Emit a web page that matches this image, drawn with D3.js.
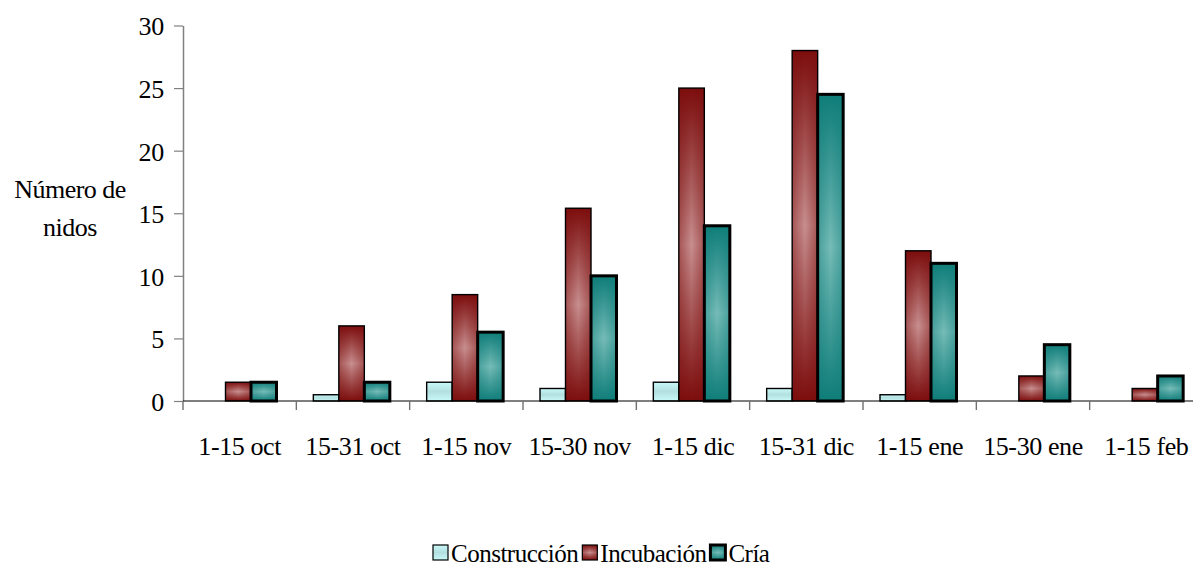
<!DOCTYPE html>
<html>
<head>
<meta charset="utf-8">
<script src="https://d3js.org/d3.v7.min.js"></script>
<style>
  html, body { margin: 0; padding: 0; background: #fff; overflow: hidden; }
  svg { display: block; }
</style>
</head>
<body>
<svg id="chart" width="1193" height="566" font-family="Liberation Serif"></svg>
<script>
// Periods of the nesting season
const categories = ["1-15 oct", "15-31 oct", "1-15 nov", "15-30 nov", "1-15 dic",
                    "15-31 dic", "1-15 ene", "15-30 ene", "1-15 feb"];
// Number of nests in each phase
const construccion = [0, 0.5, 1.5, 1, 1.5, 1, 0.5, 0, 0];
const incubacion   = [1.5, 6, 8.5, 15.4, 25, 28, 12, 2, 1];
const cria         = [1.5, 1.5, 5.5, 10, 14, 24.5, 11, 4.5, 2];
const seriesNames  = ["Construcción", "Incubación", "Cría"];
const yTicks       = [0, 5, 10, 15, 20, 25, 30];

const FONT = "Liberation Serif";

const series = [
  { key: "c", name: seriesNames[0], values: construccion, dark: "#c9f9f9", light: "#b3dfdf", stroke: 1.4, edge: "#b9e9e9", edgeOp: 0.0 },
  { key: "i", name: seriesNames[1], values: incubacion, dark: "#7c0d0d", light: "#c88f8f", stroke: 1.4, edge: "#7c0d0d", edgeOp: 0.45 },
  { key: "r", name: seriesNames[2], values: cria, dark: "#0f7d79", light: "#76bcb8", stroke: 3, edge: "#0f7d79", edgeOp: 0.45 }
];

const svg = d3.select("#chart");
const plotLeft = 183, plotRight = 1203, plotTop = 25.5, plotBottom = 401;

const x = d3.scaleBand().domain(categories).range([plotLeft, plotRight]).paddingInner(0).paddingOuter(0);
const bw = x.bandwidth();
const xs = d3.scaleBand().domain(series.map(s => s.key))
  .range([bw * 0.15, bw * 0.15 + bw * 0.675]).padding(0);
const y = d3.scaleLinear().domain([0, 30]).range([plotBottom, plotTop]);

// Shaded fills: light centre fading to dark ends, plus darker side edges
const defs = svg.append("defs");
series.forEach(s => {
  const gv = defs.append("linearGradient").attr("id", "gv-" + s.key)
    .attr("x1", 0).attr("y1", 0).attr("x2", 0).attr("y2", 1);
  gv.append("stop").attr("offset", "0%").attr("stop-color", s.dark);
  gv.append("stop").attr("offset", "50%").attr("stop-color", s.light);
  gv.append("stop").attr("offset", "100%").attr("stop-color", s.dark);
  const gh = defs.append("linearGradient").attr("id", "gh-" + s.key)
    .attr("x1", 0).attr("y1", 0).attr("x2", 1).attr("y2", 0);
  gh.append("stop").attr("offset", "0%").attr("stop-color", s.edge).attr("stop-opacity", s.edgeOp);
  gh.append("stop").attr("offset", "50%").attr("stop-color", s.edge).attr("stop-opacity", 0);
  gh.append("stop").attr("offset", "100%").attr("stop-color", s.edge).attr("stop-opacity", s.edgeOp);
});

// Y axis
const yAxis = svg.append("g").attr("transform", `translate(${plotLeft},0)`)
  .call(d3.axisLeft(y).tickValues(yTicks).tickSize(9).tickSizeOuter(0).tickPadding(10));
yAxis.attr("font-family", FONT);
yAxis.select(".domain").attr("stroke", "#808080").attr("stroke-width", 1.5);
yAxis.selectAll(".tick line").attr("stroke", "#808080").attr("stroke-width", 1.2);
yAxis.selectAll(".tick text").attr("font-size", 26).attr("font-family", FONT)
  .attr("fill", "#000").attr("dy", "0.36em").attr("letter-spacing", -0.3);

// Y axis title
const yTitle = svg.append("text").attr("text-anchor", "middle").attr("font-size", 26)
  .attr("font-family", FONT).attr("fill", "#000").attr("letter-spacing", -0.5);
yTitle.append("tspan").attr("x", 70).attr("y", 198).text("Número de");
yTitle.append("tspan").attr("x", 70).attr("y", 236).text("nidos");

// Bars
series.forEach(s => {
  const data = categories.map((c, i) => ({ c, v: s.values[i] })).filter(d => d.v > 0);
  const g = svg.append("g");
  g.selectAll("rect.base").data(data).join("rect").attr("class", "base")
    .attr("x", d => x(d.c) + xs(s.key)).attr("width", xs.bandwidth())
    .attr("y", d => y(d.v)).attr("height", d => y(0) - y(d.v))
    .attr("fill", `url(#gv-${s.key})`);
  g.selectAll("rect.edge").data(data).join("rect").attr("class", "edge")
    .attr("x", d => x(d.c) + xs(s.key)).attr("width", xs.bandwidth())
    .attr("y", d => y(d.v)).attr("height", d => y(0) - y(d.v))
    .attr("fill", `url(#gh-${s.key})`)
    .attr("stroke", "#000").attr("stroke-width", s.stroke);
});

// X axis: baseline, boundary ticks, centred labels
const xAxis = svg.append("g").attr("transform", `translate(0,${plotBottom})`);
xAxis.append("line").attr("x1", plotLeft).attr("x2", plotRight).attr("stroke", "#000").attr("stroke-width", 1.2);
xAxis.selectAll("line.tk").data(categories).join("line").attr("class", "tk")
  .attr("x1", d => x(d)).attr("x2", d => x(d)).attr("y1", 0).attr("y2", 9)
  .attr("stroke", "#707070").attr("stroke-width", 1.4);
xAxis.selectAll("text").data(categories).join("text")
  .attr("x", d => x(d) + bw / 2).attr("y", 54)
  .attr("text-anchor", "middle").attr("font-size", 26).attr("font-family", FONT)
  .attr("fill", "#000").attr("letter-spacing", -0.4)
  .text(d => d);

// Legend
const legend = svg.append("g");
let cx = 433;
series.forEach(s => {
  const it = legend.append("g");
  it.append("rect").attr("x", cx).attr("y", 545).attr("width", 15).attr("height", 15)
    .attr("fill", `url(#gv-${s.key})`);
  it.append("rect").attr("x", cx).attr("y", 545).attr("width", 15).attr("height", 15)
    .attr("fill", `url(#gh-${s.key})`).attr("stroke", "#000").attr("stroke-width", s.key === "r" ? 3 : 1.2);
  const t = it.append("text").attr("x", cx + 18).attr("y", 562).attr("font-size", 25)
    .attr("font-family", FONT).attr("fill", "#000")
    .attr("letter-spacing", -0.5).text(s.name);
  cx += 18 + t.node().getComputedTextLength() + 4;
});
</script>
</body>
</html>
